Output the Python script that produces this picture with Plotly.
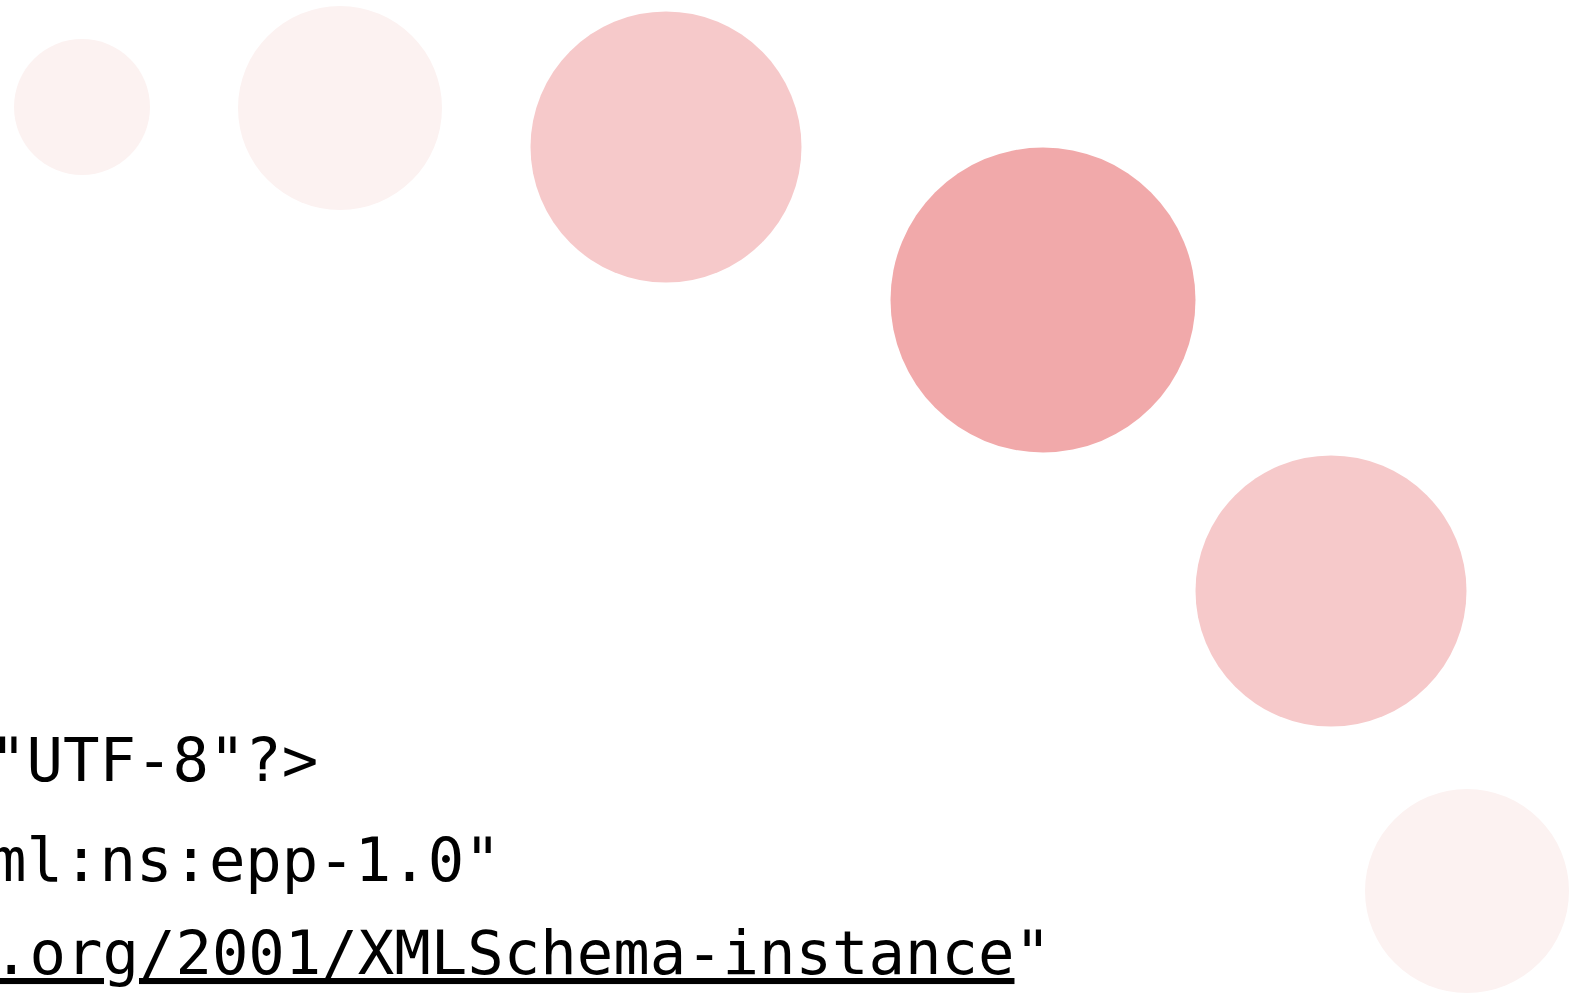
import plotly.graph_objects as go

# Bubble data (pixel-space positions, diameters, colour tier)
bubble_x = [82, 340, 666, 1043, 1331, 1467]
bubble_y = [107, 108, 147, 300, 591, 891]
bubble_diam = [136, 204, 271, 305, 271, 204]
bubble_tier = ["light", "light", "mid", "dark", "mid", "light"]
tier_colors = {"light": "#fcf2f1", "mid": "#f6c9ca", "dark": "#f1a9aa"}

# Text lines (visible part of an XML snippet)
code_lines = [
    '"UTF-8"?>',
    'ml:ns:epp-1.0"',
    '<span style="text-decoration:underline;text-decoration-thickness:4px;'
    'text-decoration-skip-ink:none;text-underline-offset:7px">'
    '.org/2001/XMLSchema-instance</span>"',
]
line_y = [760, 860, 953]
line_x = [-12, -12, -9]

W, H = 1575, 994

fig = go.Figure()
fig.add_trace(go.Scatter(
    x=bubble_x, y=bubble_y, mode="markers",
    marker=dict(size=bubble_diam, color=[tier_colors[t] for t in bubble_tier],
                line=dict(width=0), opacity=1),
    hoverinfo="skip", showlegend=False, cliponaxis=False,
))

for txt, xx, yy in zip(code_lines, line_x, line_y):
    fig.add_annotation(
        x=xx / W, y=1 - yy / H, xref="paper", yref="paper", text=txt,
        showarrow=False, xanchor="left", yanchor="middle", align="left",
        font=dict(family="DejaVu Sans Mono", size=60.6, color="#000000"),
    )

fig.update_layout(
    width=W, height=H,
    margin=dict(l=0, r=0, t=0, b=0, pad=0),
    paper_bgcolor="white", plot_bgcolor="white",
    xaxis=dict(range=[0, W], visible=False, fixedrange=True),
    yaxis=dict(range=[H, 0], visible=False, fixedrange=True),
    showlegend=False,
)

fig.write_html(
    "out.html",
    config={"displayModeBar": False},
    post_script="document.body.style.margin='0';document.body.style.overflow='hidden';",
)
